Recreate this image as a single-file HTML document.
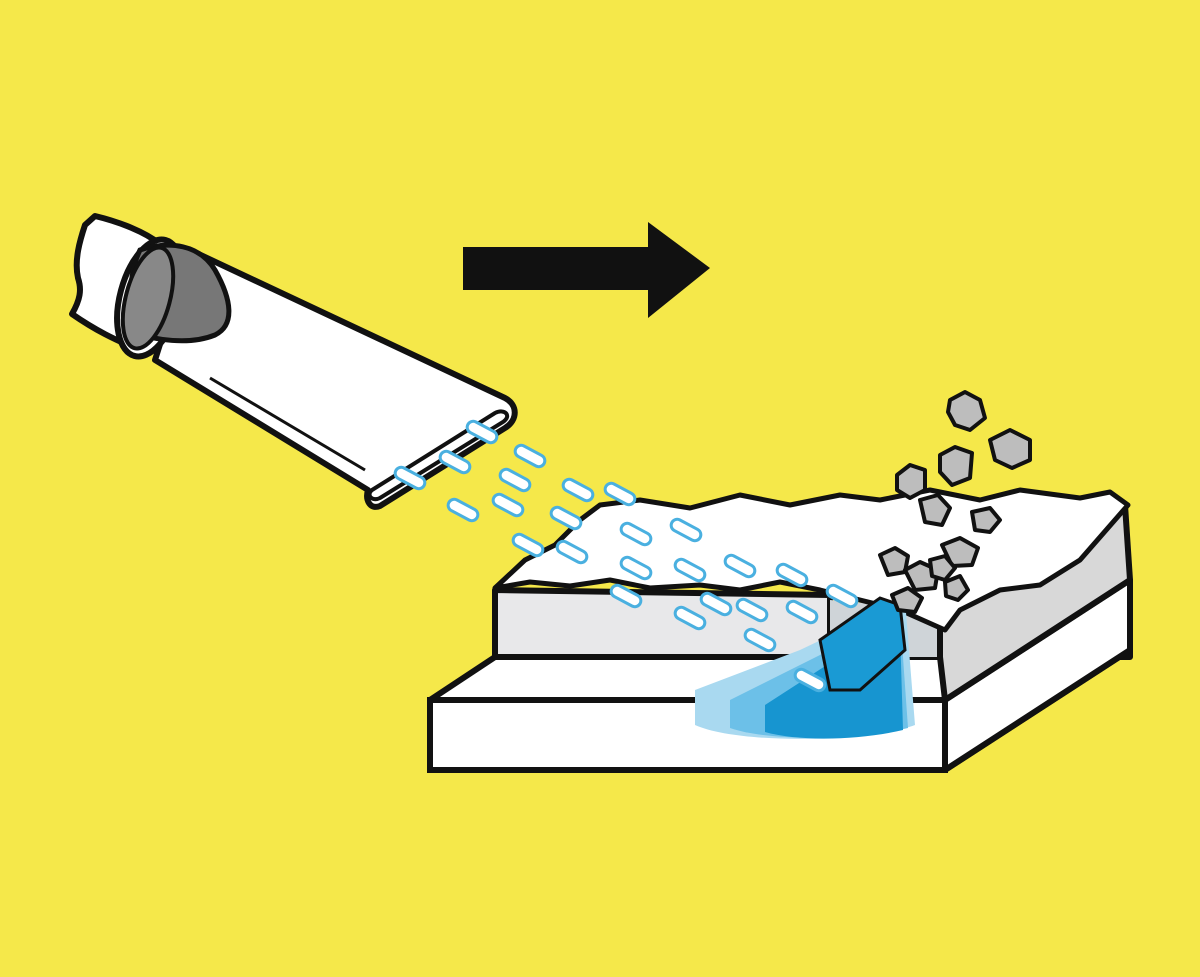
<!DOCTYPE html>
<html><head><meta charset="utf-8"><style>
html,body{margin:0;padding:0;background:#F5E84A;}
svg{display:block}
</style></head><body>
<svg width="1200" height="977" viewBox="0 0 1200 977" xmlns="http://www.w3.org/2000/svg">
<rect width="1200" height="977" fill="#F5E84A"/>
<polygon points="463,247 648,247 648,222 710,268 648,318 648,290 463,290" fill="#111"/>

<path d="M95,216 C120,222 145,232 160,244 L140,350 C115,340 95,330 72,314 C80,300 82,290 78,278 C74,260 80,240 85,225 Z" fill="#fff" stroke="#111" stroke-width="6" stroke-linejoin="round"/>
<path d="M190,250 L505,398 C518,405 518,420 505,428 L380,506 C370,510 365,500 368,490 L155,360 Z" fill="#fff" stroke="#111" stroke-width="6" stroke-linejoin="round"/>
<line x1="210" y1="378" x2="365" y2="470" stroke="#111" stroke-width="3"/>
<path d="M372,490 L495,413 C505,408 512,416 503,422 L380,498 C372,502 366,495 372,490 Z" fill="#fff" stroke="#111" stroke-width="4"/>
<ellipse cx="150" cy="298" rx="30" ry="60" fill="#fff" stroke="#111" stroke-width="6" transform="rotate(15 150 298)"/>
<path d="M140,250 C170,240 200,245 215,270 C232,300 235,325 215,335 C190,345 160,340 140,335 C128,310 128,275 140,250 Z" fill="#777" stroke="#111" stroke-width="5"/>
<ellipse cx="148" cy="298" rx="22" ry="52" fill="#888" stroke="#111" stroke-width="4" transform="rotate(15 148 298)"/>

<polygon points="430,700 495,657 1130,657 1130,650 945,770 945,700" fill="#fff" stroke="#111" stroke-width="6" stroke-linejoin="round"/>
<rect x="430" y="700" width="515" height="70" fill="#fff" stroke="#111" stroke-width="6"/>
<polygon points="945,700 1130,580 1130,650 945,770" fill="#fff" stroke="#111" stroke-width="6" stroke-linejoin="round"/>
<polygon points="495,590 830,595 830,657 495,657" fill="#e8e8ea" stroke="#111" stroke-width="6" stroke-linejoin="round"/>
<polygon points="830,600 945,610 945,700 940,657 830,657" fill="#cfd4d8"/>
<polygon points="940,657 940,610 1125,505 1130,580 945,700" fill="#d8d8d8" stroke="#111" stroke-width="6" stroke-linejoin="round"/>
<path d="M495,588 L525,560 L555,545 L580,520 L600,505 L640,500 L690,508 L740,495 L790,505 L840,495 L880,500 L930,490 L980,500 L1020,490 L1080,498 L1110,492 L1128,505 L1080,560 L1040,585 L1000,590 L960,610 L945,630 L900,610 L860,600 L820,590 L780,582 L740,590 L700,585 L650,588 L610,580 L570,586 L530,582 Z" fill="#fff" stroke="#111" stroke-width="5" stroke-linejoin="round"/>

<path d="M695,690 L800,650 L905,600 L915,725 C870,742 740,745 695,725 Z" fill="#a9d9f0"/>
<path d="M730,700 L820,655 L900,615 L908,728 C860,740 770,742 730,728 Z" fill="#6cc0e8"/>
<path d="M765,705 L850,650 L900,630 L903,730 C860,740 800,742 765,732 Z" fill="#1795d0"/>
<path d="M820,640 L880,598 L900,605 L905,650 L860,690 L830,690 Z" fill="#1a9ad4" stroke="#111" stroke-width="3"/>

<g fill="#fff" stroke="#4ab0e0" stroke-width="3">
<rect x="-16" y="-6" width="32" height="12" rx="6" transform="translate(410,478) rotate(28)"/>
<rect x="-16" y="-6" width="32" height="12" rx="6" transform="translate(455,462) rotate(28)"/>
<rect x="-16" y="-6" width="32" height="12" rx="6" transform="translate(482,432) rotate(28)"/>
<rect x="-16" y="-6" width="32" height="12" rx="6" transform="translate(530,456) rotate(28)"/>
<rect x="-16" y="-6" width="32" height="12" rx="6" transform="translate(515,480) rotate(28)"/>
<rect x="-16" y="-6" width="32" height="12" rx="6" transform="translate(463,510) rotate(28)"/>
<rect x="-16" y="-6" width="32" height="12" rx="6" transform="translate(508,505) rotate(28)"/>
<rect x="-16" y="-6" width="32" height="12" rx="6" transform="translate(578,490) rotate(28)"/>
<rect x="-16" y="-6" width="32" height="12" rx="6" transform="translate(620,494) rotate(28)"/>
<rect x="-16" y="-6" width="32" height="12" rx="6" transform="translate(566,518) rotate(28)"/>
<rect x="-16" y="-6" width="32" height="12" rx="6" transform="translate(528,545) rotate(28)"/>
<rect x="-16" y="-6" width="32" height="12" rx="6" transform="translate(572,552) rotate(28)"/>
<rect x="-16" y="-6" width="32" height="12" rx="6" transform="translate(636,534) rotate(28)"/>
<rect x="-16" y="-6" width="32" height="12" rx="6" transform="translate(686,530) rotate(28)"/>
<rect x="-16" y="-6" width="32" height="12" rx="6" transform="translate(636,568) rotate(28)"/>
<rect x="-16" y="-6" width="32" height="12" rx="6" transform="translate(690,570) rotate(28)"/>
<rect x="-16" y="-6" width="32" height="12" rx="6" transform="translate(740,566) rotate(28)"/>
<rect x="-16" y="-6" width="32" height="12" rx="6" transform="translate(792,575) rotate(28)"/>
<rect x="-16" y="-6" width="32" height="12" rx="6" transform="translate(842,596) rotate(28)"/>
<rect x="-16" y="-6" width="32" height="12" rx="6" transform="translate(626,596) rotate(28)"/>
<rect x="-16" y="-6" width="32" height="12" rx="6" transform="translate(690,618) rotate(28)"/>
<rect x="-16" y="-6" width="32" height="12" rx="6" transform="translate(716,604) rotate(28)"/>
<rect x="-16" y="-6" width="32" height="12" rx="6" transform="translate(752,610) rotate(28)"/>
<rect x="-16" y="-6" width="32" height="12" rx="6" transform="translate(802,612) rotate(28)"/>
<rect x="-16" y="-6" width="32" height="12" rx="6" transform="translate(760,640) rotate(28)"/>
<rect x="-16" y="-6" width="32" height="12" rx="6" transform="translate(810,680) rotate(28)"/>
</g>

<g fill="#bdbdbd" stroke="#111" stroke-width="4" stroke-linejoin="round">
<polygon points="950,400 965,392 980,400 985,418 970,430 955,425 948,412"/>
<polygon points="990,440 1010,430 1030,440 1030,460 1012,468 995,460"/>
<polygon points="940,455 955,447 972,453 970,478 952,485 940,472"/>
<polygon points="897,475 910,465 925,470 925,490 910,498 897,490"/>
<polygon points="920,500 938,495 950,508 942,525 925,522"/>
<polygon points="972,512 990,508 1000,520 990,532 975,530"/>
<polygon points="880,555 895,548 908,556 905,572 888,575"/>
<polygon points="942,545 960,538 978,548 972,565 952,566"/>
<polygon points="905,570 920,562 938,570 935,588 915,590"/>
<polygon points="930,560 945,556 955,568 945,580 932,576"/>
<polygon points="892,595 908,588 922,598 915,612 898,610"/>
<polygon points="945,582 960,576 968,590 958,600 946,596"/>
</g>
</svg>
</body></html>
